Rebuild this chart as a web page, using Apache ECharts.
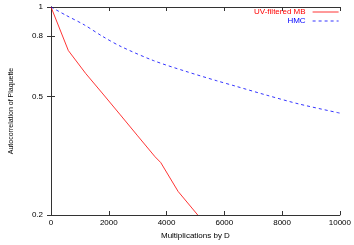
<!DOCTYPE html>
<html><head><meta charset="utf-8">
<script src="https://cdn.jsdelivr.net/npm/echarts@6/dist/echarts.min.js"></script>
<style>html,body{margin:0;padding:0;background:#fff}#c{width:354px;height:245px}</style>
</head><body><div id="c"></div>
<script>
const mbX = [0, 600, 1200, 1800, 2400, 3000, 3600, 3800, 4400, 5080];
const mbY = [1.0, 0.714, 0.598, 0.51, 0.434, 0.369, 0.314, 0.300, 0.240, 0.2];
const hmcX = [0, 500, 1150, 1800, 2430, 3540, 4660, 5740, 6390, 7480, 8590, 10000];
const hmcY = [1.0, 0.94, 0.871, 0.795, 0.736, 0.661, 0.608, 0.565, 0.542, 0.505, 0.472, 0.44];
const yTicks = [0.2, 0.5, 0.8, 1];
const xTicks = [0, 2000, 4000, 6000, 8000, 10000];
const names = ['UV-filtered MB', 'HMC'];

const font = 'Liberation Sans, Arial, sans-serif';
const axisCol = '#333';
const chart = echarts.init(document.getElementById('c'));
const zip = (xs, ys) => xs.map((x, i) => [x, ys[i]]);
chart.setOption({
  animation: false,
  grid: {left: 45, right: 5, top: 7, bottom: 28},
  legend: {
    orient: 'vertical', right: 15, top: 8, align: 'right',
    itemWidth: 26, itemHeight: 6, itemGap: 1, padding: 0,
    itemStyle: {opacity: 0},
    lineStyle: {width: 0.8},
    data: [
      {name: names[0], textStyle: {color: '#ff0000'}},
      {name: names[1], textStyle: {color: '#0000ff'}}
    ],
    textStyle: {fontSize: 8, fontFamily: font, padding: [0, 2, 0, 0]}
  },
  xAxis: [{
    type: 'value', min: 0, max: 10000, interval: 2000,
    name: 'Multiplications by D', nameLocation: 'middle', nameGap: 17,
    nameTextStyle: {fontSize: 8, fontFamily: font, color: '#000'},
    axisLine: {lineStyle: {color: axisCol, width: 1}},
    axisTick: {inside: true, length: 4, lineStyle: {color: axisCol}},
    axisLabel: {fontSize: 8, fontFamily: font, color: '#000', margin: 4, customValues: xTicks,
      formatter: v => String(v)},
    splitLine: {show: false}
  }, {
    type: 'value', position: 'top', min: 0, max: 10000, interval: 2000,
    axisLine: {show: true, lineStyle: {color: axisCol, width: 1}},
    axisTick: {inside: true, length: 4, lineStyle: {color: axisCol}},
    axisLabel: {show: false}, splitLine: {show: false}
  }],
  yAxis: [{
    type: 'log', min: 0.2, max: 1,
    name: 'Autocorrelation of Plaquette', nameLocation: 'middle', nameGap: 36,
    nameTextStyle: {fontSize: 7, fontFamily: font, color: '#000'},
    axisLine: {show: true, lineStyle: {color: axisCol, width: 1}},
    axisTick: {inside: true, length: 4, lineStyle: {color: axisCol}, customValues: yTicks},
    axisLabel: {fontSize: 8, fontFamily: font, color: '#000', margin: 8, customValues: yTicks,
      formatter: v => String(+v.toFixed(2))},
    splitLine: {show: false}
  }, {
    type: 'log', min: 0.2, max: 1, position: 'right',
    axisLine: {show: true, lineStyle: {color: axisCol, width: 1}},
    axisTick: {inside: true, length: 4, lineStyle: {color: axisCol}, customValues: yTicks},
    axisLabel: {show: false}, splitLine: {show: false}
  }],
  series: [{
    name: names[0], type: 'line', data: zip(mbX, mbY), symbol: 'none', clip: true,
    lineStyle: {color: '#ff0000', width: 0.8}, itemStyle: {color: '#ff0000'}
  }, {
    name: names[1], type: 'line', data: zip(hmcX, hmcY), symbol: 'none', smooth: 0.3, clip: true,
    lineStyle: {color: '#0000ff', width: 0.8, type: [3, 3]}, itemStyle: {color: '#0000ff'}
  }]
});
</script></body></html>
